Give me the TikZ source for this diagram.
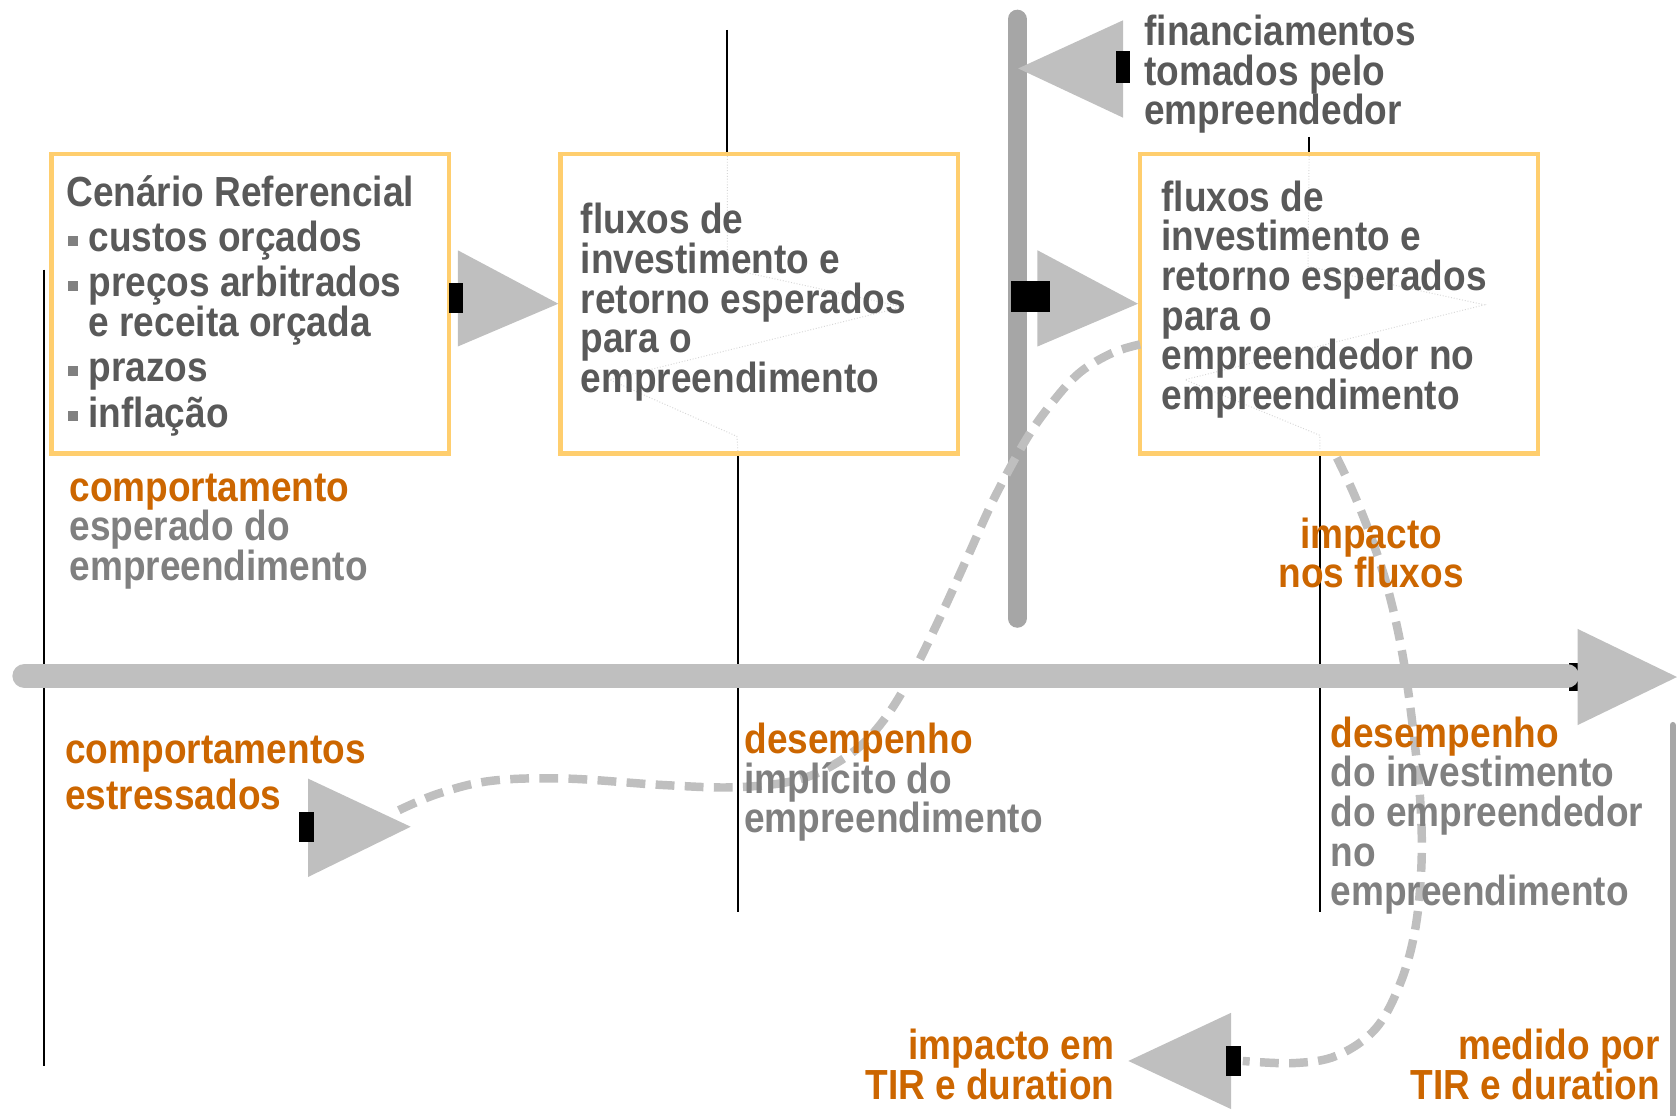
\documentclass[tikz,border=0pt]{standalone}
\usepackage{fontspec}
\setmainfont{Liberation Sans}[FakeStretch=0.88]
\definecolor{txtdark}{RGB}{89,89,89}
\definecolor{txtgray}{RGB}{128,128,128}
\definecolor{orng}{RGB}{204,102,0}
\definecolor{boxor}{RGB}{255,206,110}
\definecolor{trig}{RGB}{191,191,191}
\definecolor{barc}{RGB}{166,166,166}
\definecolor{faintc}{RGB}{215,215,215}
\newcommand{\bul}{\hspace*{1.1pt}\textcolor{txtgray}{\rule[3.2pt]{5.1pt}{5.1pt}}\hspace*{5.7pt}}
\newcommand{\ind}{\hspace*{11.9pt}}
\begin{document}
\begin{tikzpicture}[x=0.02cm,y=-0.02cm,
  lbl/.style={inner sep=0pt, outer sep=0pt, font=\fontsize{22.4pt}{21.1pt}\selectfont\bfseries, align=left, anchor=north west},
  box/.style={draw=boxor, line width=2.3pt, fill=white, inner sep=0pt, minimum width=7.44cm, minimum height=5.6cm},
  tri/.style={fill=trig},
  blk/.style={fill=black},
  vline/.style={draw=black, line width=0.85pt},
  faint/.style={draw=faintc, line width=0.5pt, densely dotted},
  dashcurve/.style={draw=trig, line width=4.5pt, dash pattern=on 10pt off 5.5pt}
]
\useasboundingbox (0,0) rectangle (1568,1043);

% thin black lines
\draw[vline] (41,252) -- (41,997);
\draw[vline] (680,28) -- (680,144);
\draw[vline] (690,424) -- (690,853);
\draw[vline] (1224,128) -- (1224,144);
\draw[vline] (1234,424) -- (1234,853);

% boxes
\node[box] (b1) at (234,284) {};
\node[box] (b2) at (710,284) {};
\node[box] (b3) at (1252,284) {};

% faint hidden lines inside boxes
\draw[faint] (680,146) -- (680,251) -- (844,287) -- (570,355) -- (689,408) -- (690,422);
\draw[faint] (1224,146) -- (1223,249) -- (1388,285) -- (1108,355) -- (1234,407) -- (1234,422);

% right edge gray line
\draw[barc, line width=3.4pt, line cap=round] (1564,678) -- (1564,1060);

% timeline
\fill[blk] (1467,620) rectangle (1479,646);
\draw[trig, line width=13pt, line cap=round] (23,632) -- (1465,632);
\coordinate (tl1) at (1475,588);
\coordinate (tltip) at (1568,633);
\coordinate (tl2) at (1475,678);
\fill[tri] (tl1) -- (tltip) -- (tl2) -- cycle;

% vertical bar
\draw[barc, line width=10.2pt, line cap=round] (951,18) -- (951,578);

% dashed curves
\coordinate (ca) at (1066,322);
\coordinate (cb) at (372,758);
\draw[dashcurve] plot[smooth, tension=0.6] coordinates {(ca) (1040,330) (1010,348) (985,375) (960,410) (930,465) (905,520) (880,575) (852,632) (825,675) (795,705) (750,728) (690,736) (620,734) (530,728) (460,730) (410,742) (cb)};
\coordinate (cc) at (1250,428);
\coordinate (cd) at (1162,992);
\draw[dashcurve] plot[smooth, tension=0.6] coordinates {(cc) (1266,462) (1283,505) (1298,552) (1311,610) (1321,680) (1328,750) (1329,810) (1323,870) (1309,920) (1286,962) (1250,987) (1210,994) (cd)};

% arrow 1: box1 -> box2
\fill[tri] (428,234) -- (b2.west) -- (428,324) -- cycle;
\fill[blk] (420,265) rectangle (433,293);
% arrow 2: bar -> box3
\fill[tri] (970,234) -- (b3.west) -- (970,324) -- cycle;
\fill[blk] (945,263) rectangle (982,292);
% arrow 3: financiamentos -> bar
\coordinate (f3) at (952,64);
\fill[tri] (1050,19) -- (f3) -- (1050,110) -- cycle;
\fill[blk] (1043,48) rectangle (1057,78);
% arrow 4: comportamentos estressados
\fill[tri] (288,728) -- (384,773) -- (288,820) -- cycle;
\fill[blk] (280,759) rectangle (294,787);
% arrow 5: impacto em TIR
\fill[tri] (1151,947) -- (1055,992) -- (1151,1037) -- cycle;
\fill[blk] (1146,978) rectangle (1160,1006);

% texts
\node[lbl, text=txtdark] (t1) at (62,164) {Cenário Referencial\\[3pt]
\bul custos orçados\\[3pt]
\bul preços arbitrados\\
\ind e receita orçada\\[3pt]
\bul prazos\\[3pt]
\bul inflação};
\node[lbl, text=txtdark] (t2) at (543,190) {fluxos de\\investimento e\\retorno esperados\\para o\\empreendimento};
\node[lbl, text=txtdark] (t3) at (1086,169) {fluxos de\\investimento e\\retorno esperados\\para o\\empreendedor no\\empreendimento};
\node[lbl, text=txtdark] (t4) at (1070,14) {financiamentos\\tomados pelo\\empreendedor};
\node[lbl, text=txtgray] (t5) at (65,443) {\textcolor{orng}{comportamento}\\esperado do\\empreendimento};
\node[lbl, text=orng] (t6) at (61,688) {comportamentos\\[3.3pt]estressados};
\node[lbl, text=txtgray] (t7) at (696,676) {\textcolor{orng}{desempenho}\\implícito do\\empreendimento};
\node[lbl, text=orng, align=center, anchor=north] (t8) at (1282,484) {impacto\\nos fluxos};
\node[lbl, text=txtgray] (t9) at (1244,670) {\textcolor{orng}{desempenho}\\do investimento\\do empreendedor\\no\\empreendimento};
\node[lbl, text=orng, align=right, anchor=north east] (t10) at (1042,962) {impacto em\\TIR e duration};
\node[lbl, text=orng, align=right, anchor=north east] (t11) at (1552,962) {medido por\\TIR e duration};
\end{tikzpicture}
\end{document}
